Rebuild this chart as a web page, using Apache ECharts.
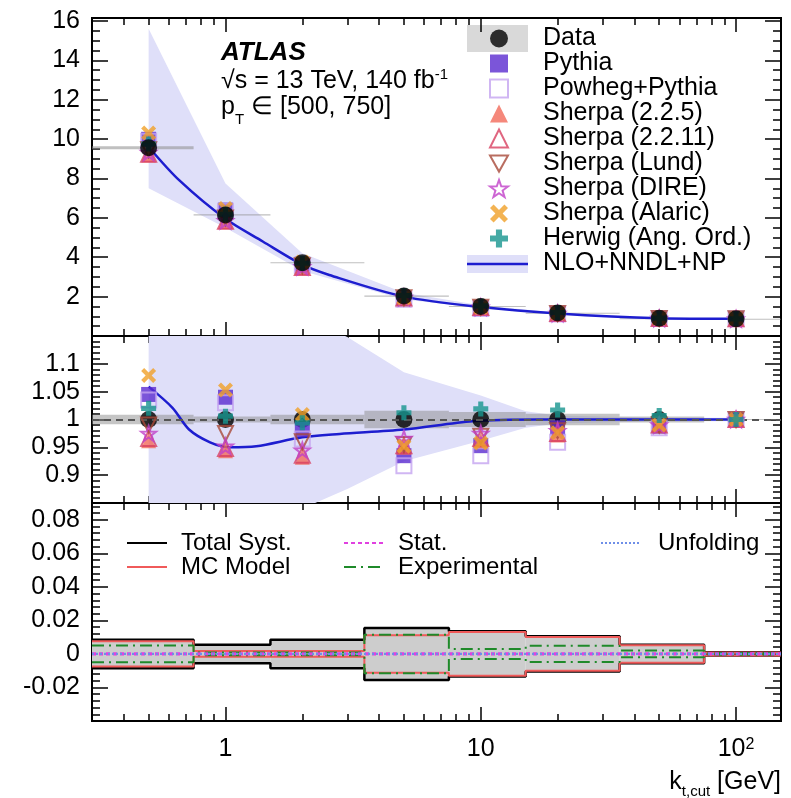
<!DOCTYPE html>
<html>
<head>
<meta charset="utf-8">
<script src="https://cdn.jsdelivr.net/npm/echarts@6/dist/echarts.min.js"></script>
<style>
  html, body { margin: 0; padding: 0; background: #fff; }
  #main { width: 791px; height: 798px; }
</style>
</head>
<body>
<div id="main"></div>
<script>
// k_t,cut points (GeV) and bin edges
const ktCut = [0.5, 1, 2, 5, 10, 20, 50, 100];
const binEdges = [0.3, 0.75, 1.5, 3.5, 7.5, 15, 35, 75, 150];

// measured distribution
const dataVals = [9.56, 6.15, 3.72, 2.03, 1.5, 1.17, 0.9, 0.87];
const dataRatio = [1, 1, 1, 1, 1, 1, 1, 1];

// MC / data
const pythia = [1.045, 1.04, 0.982, 0.935, 0.953, 0.985, 0.988, 1.0];
const powheg = [1.035, 1.03, 0.965, 0.917, 0.935, 0.959, 0.985, 1.0];
const sherpa225 = [0.962, 0.944, 0.932, 0.95, 0.962, 0.972, 0.99, 1.0];
const sherpa2211 = [0.966, 0.948, 0.936, 0.953, 0.966, 0.975, 0.99, 1.0];
const sherpaLund = [0.99, 0.975, 0.96, 0.955, 0.97, 0.98, 0.99, 1.0];
const sherpaDire = [0.975, 0.952, 0.945, 0.966, 0.975, 0.98, 0.99, 1.0];
const sherpaAlaric = [1.079, 1.053, 1.009, 0.952, 0.958, 0.976, 0.99, 1.0];
const herwig = [1.02, 1.006, 0.994, 1.012, 1.019, 1.017, 1.007, 1.0];

// NLO+NNDL+NP prediction
const theoryX = [0.5, 0.66, 1, 1.4, 2, 2.55, 5, 10, 20, 50, 100];
const theoryY = [9.6, 7.9, 5.95, 4.8, 3.62, 3.1, 2.0, 1.47, 1.14, 0.9, 0.87];
const bandX = [0.5, 1, 2, 5, 10, 20, 50, 100];
const bandLo = [7.5, 5.5, 3.3, 1.86, 1.42, 1.12, 0.88, 0.85];
const bandHi = [15.6, 7.75, 4.2, 2.2, 1.56, 1.18, 0.91, 0.88];
const ratioX = [0.5, 0.62, 0.72, 0.87, 1.04, 1.32, 2, 2.8, 5, 9.3, 17, 50, 100];
const ratioY = [1.059, 1.021, 0.982, 0.959, 0.95, 0.952, 0.968, 0.974, 0.982, 0.997, 1.0, 1.0, 1.0];
const ratioBandX = [0.5, 1, 2, 3, 5, 10, 15, 20, 50, 100];
const ratioBandLo = [0.78, 0.8, 0.84, 0.875, 0.925, 0.962, 0.985, 0.993, 0.997, 0.997];
const ratioBandHi = [1.64, 1.3, 1.19, 1.148, 1.085, 1.043, 1.015, 1.007, 1.003, 1.003];

// relative uncertainties per bin
const totalSyst = [0.0085, 0.0055, 0.0085, 0.0155, 0.0135, 0.0105, 0.0055, 0.001];
const mcModel = [0.0075, 0.0017, 0.0017, 0.0112, 0.013, 0.0101, 0.0052, 0.0009];
const expUnc = [0.005, 0.0008, 0.0008, 0.0115, 0.003, 0.0048, 0.002, 0.0005];
const statUnc = [0.0004, 0.0004, 0.0004, 0.0004, 0.0004, 0.0004, 0.0004, 0.0004];
const unfoldUnc = [0.0002, 0.0002, 0.0002, 0.0002, 0.0002, 0.0002, 0.0002, 0.0002];

// tick labels
const xTickLabels = [1, 10, 100];
const xMinorTicks = [0.4, 0.5, 0.6, 0.7, 0.8, 0.9, 2, 3, 4, 5, 6, 7, 8, 9, 20, 30, 40, 50, 60, 70, 80, 90];
const topYLabels = [2, 4, 6, 8, 10, 12, 14, 16];
const ratioYLabels = [0.9, 0.95, 1, 1.05, 1.1];
const systYLabels = [-0.02, 0, 0.02, 0.04, 0.06, 0.08];

const FONT = 'Liberation Sans';
const BAND = '#dfdff9';
const BLUE = '#1d1dcf';

function range(a, b, step) {
  const out = [];
  for (let v = a; v <= b + step / 2; v += step) out.push(Math.round(v * 1e6) / 1e6);
  return out;
}

const star = 'path://M10,0 L12.35,6.76 L19.51,6.91 L13.8,11.24 L15.88,18.09 L10,14 L4.12,18.09 L6.2,11.24 L0.49,6.91 L7.65,6.76 Z';
const xMark = 'path://M0,2 L2,0 L5,3 L8,0 L10,2 L7,5 L10,8 L8,10 L5,7 L2,10 L0,8 L3,5 Z';
const plus = 'path://M3.3,0 H6.7 V3.3 H10 V6.7 H6.7 V10 H3.3 V6.7 H0 V3.3 H3.3 Z';
const invTri = 'path://M0,0 L10,0 L5,9 Z';

const mcSpecs = [
  { name: 'Pythia', vals: pythia, symbol: 'rect', color: '#5a2ad0', open: false },
  { name: 'Powheg+Pythia', vals: powheg, symbol: 'rect', color: '#c4a4f0', open: true },
  { name: 'Sherpa (2.2.5)', vals: sherpa225, symbol: 'triangle', color: '#f26a5a', open: false },
  { name: 'Sherpa (2.2.11)', vals: sherpa2211, symbol: 'triangle', color: '#d84060', open: true },
  { name: 'Sherpa (Lund)', vals: sherpaLund, symbol: invTri, color: '#a84838', open: true },
  { name: 'Sherpa (DIRE)', vals: sherpaDire, symbol: star, color: '#c040c8', open: true },
  { name: 'Sherpa (Alaric)', vals: sherpaAlaric, symbol: xMark, color: '#f0a028', open: false },
  { name: 'Herwig (Ang. Ord.)', vals: herwig, symbol: plus, color: '#17958f', open: false }
];

// axes: 4 x and 4 y per grid (major/minor ticks on both sides)
function xAxes(g, labels) {
  const base = {
    type: 'log', logBase: 10, min: 0.3, max: 150, gridIndex: g,
    splitLine: { show: false },
    axisLine: { onZero: false, lineStyle: { color: '#000', width: 2 } }
  };
  const lab = {
    show: labels, customValues: xTickLabels, margin: 16, color: '#000',
    fontFamily: FONT, fontSize: 25,
    formatter: v => (v === 100 ? '{b|10}{s|2}' : String(v)),
    rich: {
      b: { fontFamily: FONT, fontSize: 25, color: '#000' },
      s: { fontFamily: FONT, fontSize: 16, color: '#000', verticalAlign: 'top' }
    }
  };
  const tk = (len, vals) => ({ inside: true, length: len, customValues: vals, lineStyle: { color: '#000', width: 1.5 } });
  return [
    Object.assign({}, base, { position: 'bottom', axisTick: tk(14, xTickLabels), axisLabel: lab }),
    Object.assign({}, base, { position: 'bottom', axisTick: tk(7, xMinorTicks), axisLabel: { show: false } }),
    Object.assign({}, base, { position: 'top', axisTick: tk(14, xTickLabels), axisLabel: { show: false } }),
    Object.assign({}, base, { position: 'top', axisTick: tk(7, xMinorTicks), axisLabel: { show: false } })
  ];
}

function yAxes(g, min, max, labels, minor) {
  const base = {
    type: 'value', min: min, max: max, gridIndex: g,
    splitLine: { show: false },
    axisLine: { onZero: false, lineStyle: { color: '#000', width: 2 } }
  };
  const tk = (len, vals) => ({ inside: true, length: len, customValues: vals, lineStyle: { color: '#000', width: 1.5 } });
  return [
    Object.assign({}, base, {
      position: 'left', axisTick: tk(16, labels),
      axisLabel: { customValues: labels, margin: 12, color: '#000', fontFamily: FONT, fontSize: 25 }
    }),
    Object.assign({}, base, { position: 'left', axisTick: tk(8, minor), axisLabel: { show: false } }),
    Object.assign({}, base, { position: 'right', axisTick: tk(16, labels), axisLabel: { show: false } }),
    Object.assign({}, base, { position: 'right', axisTick: tk(8, minor), axisLabel: { show: false } })
  ];
}

const xAxis = [].concat(xAxes(0, false), xAxes(1, false), xAxes(2, true));
const yAxis = [].concat(
  yAxes(0, 0, 16.15, topYLabels, range(0.5, 16, 0.5)),
  yAxes(1, 0.85, 1.15, ratioYLabels, range(0.86, 1.14, 0.01)),
  yAxes(2, -0.04, 0.09, systYLabels, range(-0.036, 0.088, 0.004))
);

function zip(xs, ys) { return xs.map((x, i) => [x, ys[i]]); }

function steps(vals, sign) {
  const pts = vals.map((v, i) => [binEdges[i], sign * v]);
  pts.push([binEdges[binEdges.length - 1], sign * vals[vals.length - 1]]);
  return pts;
}

// rectangle per bin: [xlo, xhi, ylo, yhi]
function boxSeries(ax, rows, fill, z) {
  return {
    type: 'custom', xAxisIndex: ax, yAxisIndex: ax, silent: true, z: z, clip: true,
    data: rows,
    renderItem: (params, api) => {
      const p0 = api.coord([api.value(0), api.value(3)]);
      const p1 = api.coord([api.value(1), api.value(2)]);
      return {
        type: 'rect',
        shape: { x: p0[0], y: p0[1], width: p1[0] - p0[0], height: Math.max(p1[1] - p0[1], 1) },
        style: { fill: fill }
      };
    }
  };
}

// theory band as a single polygon (upper edge, then lower edge back)
function bandSeries(ax, xs, lo, hi) {
  return {
    type: 'custom', xAxisIndex: ax, yAxisIndex: ax, silent: true, z: 1, clip: true,
    data: xs.map((x, i) => [x, lo[i], hi[i]]),
    renderItem: (params, api) => {
      if (params.dataIndex !== 0) return null;
      const upper = xs.map((x, i) => api.coord([x, hi[i]]));
      const lower = xs.map((x, i) => api.coord([x, lo[i]])).reverse();
      return { type: 'polygon', shape: { points: upper.concat(lower) }, style: { fill: BAND } };
    }
  };
}

function mcSeries(ax, spec, scale, z) {
  return {
    name: spec.name, type: 'scatter', xAxisIndex: ax, yAxisIndex: ax, z: z,
    data: ktCut.map((x, i) => [x, scale ? spec.vals[i] * dataVals[i] : spec.vals[i]]),
    symbol: spec.symbol, symbolSize: 15,
    itemStyle: spec.open
      ? { color: 'rgba(255,255,255,0)', borderColor: spec.color, borderWidth: 2 }
      : { color: spec.color }
  };
}

const series = [];

// ---- top panel (axis index 0)
series.push(bandSeries(0, bandX, bandLo, bandHi));
series.push(boxSeries(0, dataVals.map((d, i) => [binEdges[i], binEdges[i + 1], d * (1 - totalSyst[i]), d * (1 + totalSyst[i])]), 'rgba(140,140,140,0.55)', 2));
series.push({
  name: 'NLO+NNDL+NP', type: 'line', xAxisIndex: 0, yAxisIndex: 0, z: 3,
  data: zip(theoryX, theoryY), smooth: 0.3, symbol: 'none',
  lineStyle: { color: BLUE, width: 2.5 }, itemStyle: { color: BLUE }
});
mcSpecs.forEach(s => series.push(mcSeries(0, s, true, 4)));
series.push({
  name: 'Data', type: 'scatter', xAxisIndex: 0, yAxisIndex: 0, z: 5,
  data: zip(ktCut, dataVals), symbol: 'circle', symbolSize: 17, itemStyle: { color: '#000' }
});

// ---- ratio panel (axis index 4)
series.push(bandSeries(4, ratioBandX, ratioBandLo, ratioBandHi));
const ratioBox = boxSeries(4, totalSyst.map((t, i) => [binEdges[i], binEdges[i + 1], 1 - t, 1 + t]), 'rgba(140,140,140,0.5)', 2);
ratioBox.markLine = {
  silent: true, symbol: 'none', label: { show: false },
  lineStyle: { color: '#555', type: [7, 5], width: 2 },
  data: [{ yAxis: 1 }]
};
series.push(ratioBox);
series.push({
  name: 'NLO+NNDL+NP', type: 'line', xAxisIndex: 4, yAxisIndex: 4, z: 3,
  data: zip(ratioX, ratioY), smooth: 0.3, symbol: 'none',
  lineStyle: { color: BLUE, width: 2.5 }
});
series.push({
  name: 'Data', type: 'scatter', xAxisIndex: 4, yAxisIndex: 4, z: 4,
  data: zip(ktCut, dataRatio), symbol: 'circle', symbolSize: 17, itemStyle: { color: '#000' }
});
mcSpecs.forEach(s => series.push(mcSeries(4, s, false, 5)));

// ---- systematics panel (axis index 8)
series.push(boxSeries(8, totalSyst.map((t, i) => [binEdges[i], binEdges[i + 1], -t, t]), '#cdcdcd', 1));
function stepPair(name, vals, lineStyle) {
  [1, -1].forEach(sign => series.push({
    name: name, type: 'line', xAxisIndex: 8, yAxisIndex: 8, step: 'end', z: 3,
    data: steps(vals, sign), symbol: 'none', lineStyle: lineStyle, itemStyle: { color: lineStyle.color }
  }));
}
stepPair('Total Syst.', totalSyst, { color: '#000', width: 2.5 });
stepPair('MC Model', mcModel, { color: '#f05a5a', width: 2 });
stepPair('Experimental', expUnc, { color: '#1f8a2a', width: 2, type: [12, 5, 2, 5] });
stepPair('Stat.', statUnc, { color: '#e040e0', width: 2, type: [4, 3] });
stepPair('Unfolding', unfoldUnc, { color: '#6f8fe8', width: 1.5, type: [2, 2] });

const legendText = { fontFamily: FONT, fontSize: 25, color: '#000', lineHeight: 25, padding: [0, 0, 0, 30] };
const legendTextSmall = { fontFamily: FONT, fontSize: 24, color: '#000', lineHeight: 23, padding: [0, 0, 0, 9] };
const hiddenSymbol = { color: 'rgba(0,0,0,0)', borderWidth: 0, opacity: 0 };

const option = {
  animation: false,
  backgroundColor: '#fff',
  grid: [
    { left: 92, right: 10, top: 18, height: 318 },
    { left: 92, right: 10, top: 336, height: 167 },
    { left: 92, right: 10, top: 503, height: 218 }
  ],
  xAxis: xAxis,
  yAxis: yAxis,
  legend: [
    {
      data: ['Data'].concat(mcSpecs.map(s => s.name), [{ name: 'NLO+NNDL+NP', itemStyle: hiddenSymbol, lineStyle: { opacity: 0 } }]),
      orient: 'vertical', left: 489, top: 26, padding: 0, itemWidth: 18, itemHeight: 18, itemGap: 0,
      selectedMode: false, textStyle: legendText
    },
    {
      data: ['Total Syst.', 'MC Model'], orient: 'vertical', left: 126, top: 531, padding: 0,
      itemWidth: 40, itemHeight: 14, itemGap: 0, selectedMode: false, textStyle: legendTextSmall,
      itemStyle: hiddenSymbol
    },
    {
      data: ['Stat.', 'Experimental'], orient: 'vertical', left: 343, top: 531, padding: 0,
      itemWidth: 40, itemHeight: 14, itemGap: 0, selectedMode: false, textStyle: legendTextSmall,
      itemStyle: hiddenSymbol
    },
    {
      data: ['Unfolding'], orient: 'vertical', left: 600, top: 531, padding: 0,
      itemWidth: 40, itemHeight: 14, itemGap: 0, selectedMode: false,
      textStyle: Object.assign({}, legendTextSmall, { padding: [0, 0, 0, 12] }),
      itemStyle: hiddenSymbol
    }
  ],
  graphic: [
    { type: 'rect', x: 467, y: 25, shape: { width: 61, height: 27 }, style: { fill: '#d9d9d9' }, z: 0 },
    { type: 'rect', x: 467, y: 255, shape: { width: 61, height: 18 }, style: { fill: BAND }, z: 0 },
    { type: 'line', shape: { x1: 467, y1: 264, x2: 528, y2: 264 }, style: { stroke: BLUE, lineWidth: 2.5 }, z: 0 },
    {
      type: 'text', x: 221, y: 53, z: 10,
      style: { text: 'ATLAS', font: 'italic bold 26px "Liberation Sans"', fill: '#000', verticalAlign: 'middle' }
    },
    {
      type: 'text', x: 221, y: 81, z: 10,
      style: {
        text: '{a|√s = 13 TeV, 140 fb}{b|-1}', verticalAlign: 'middle',
        rich: {
          a: { fontFamily: FONT, fontSize: 25, lineHeight: 28, fill: '#000' },
          b: { fontFamily: FONT, fontSize: 15, fill: '#000', verticalAlign: 'top' }
        }
      }
    },
    {
      type: 'text', x: 221, y: 107, z: 10,
      style: {
        text: '{a|p}{b|T}{a| ∈ [500, 750]}', verticalAlign: 'middle',
        rich: {
          a: { fontFamily: FONT, fontSize: 25, lineHeight: 41, fill: '#000' },
          b: { fontFamily: FONT, fontSize: 15, fill: '#000', verticalAlign: 'bottom' }
        }
      }
    },
    {
      type: 'text', x: 781, y: 782, z: 10,
      style: {
        text: '{a|k}{b|t,cut}{a| [GeV]}', align: 'right', verticalAlign: 'middle',
        rich: {
          a: { fontFamily: FONT, fontSize: 25, lineHeight: 34, fill: '#000' },
          b: { fontFamily: FONT, fontSize: 15, fill: '#000', verticalAlign: 'bottom' }
        }
      }
    }
  ],
  series: series
};

const chart = echarts.init(document.getElementById('main'));
chart.setOption(option);
</script>
</body>
</html>
